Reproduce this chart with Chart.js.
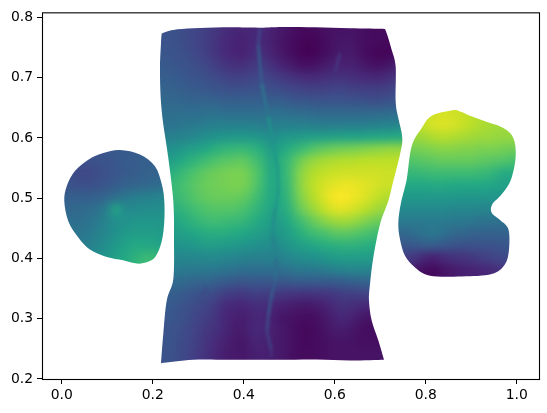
<!DOCTYPE html>
<html>
<head>
<meta charset="utf-8">
<style>
  html, body { margin: 0; padding: 0; background: #fff; }
  canvas { display: block; }
</style>
<script src="https://cdn.jsdelivr.net/npm/chart.js@4/dist/chart.umd.min.js"></script>
</head>
<body>
<canvas id="chart" width="547" height="413"></canvas>
<script>
const xTicks = [0, 0.2, 0.4, 0.6, 0.8, 1.0];
const yTicks = [0.2, 0.3, 0.4, 0.5, 0.6, 0.7, 0.8];

// values 0-100 on the colour scale, rows from the top down, one cell = 0.02
const leftValues = [ // x from -0.02, y from 0.60
  [26,26,26,26,26,26,26,26,26,26,26,26,26,26],
  [25,25,25,25,25,26,27,28,28,28,29,30,30,30],
  [24,24,24,24,24,25,26,27,28,29,30,30,31,31],
  [23,23,23,22,22,23,25,26,28,29,30,31,32,32],
  [25,25,25,24,24,25,27,29,31,32,33,34,35,35],
  [30,30,30,30,30,31,33,36,39,42,43,44,45,45],
  [33,33,33,34,35,37,42,60,47,47,48,48,49,49],
  [36,36,36,36,38,41,45,49,50,52,52,52,52,52],
  [38,38,38,39,40,43,46,50,53,55,55,55,54,54],
  [40,40,40,41,43,46,49,53,57,60,60,59,58,58],
  [42,42,42,43,46,49,52,56,60,63,66,68,64,64],
  [44,44,44,46,48,50,54,58,62,65,68,70,66,66]
];
const middleValues = [ // x from 0.20, y from 0.80
  [25,25,25,24,22,20,18,16,13,11,10,11,12,9,7,5,3,2,3,4,5,5,5,4,3,3,3,3,3],
  [25,25,25,24,22,20,18,16,13,11,10,11,12,9,7,5,3,2,3,4,5,5,5,4,3,3,3,3,3],
  [26,26,25,24,22,20,18,15,12,10,9,11,11,9,6,4,2,1,1,3,5,6,6,4,3,3,2,3,3],
  [27,27,26,25,23,21,18,15,12,10,9,12,13,10,7,4,2,0,1,3,6,7,7,4,2,1,1,3,3],
  [28,28,27,26,25,23,21,18,15,14,13,16,17,14,10,8,5,4,5,7,9,9,9,7,5,4,6,8,8],
  [30,30,29,28,26,25,24,22,20,19,19,20,21,19,17,15,13,12,12,13,14,14,13,12,11,11,13,15,15],
  [32,32,31,30,29,28,27,26,25,24,24,25,26,24,23,21,20,19,19,19,20,20,19,18,18,18,19,21,21],
  [34,34,33,33,32,32,32,31,30,30,30,30,30,29,30,28,27,27,26,26,26,26,25,25,24,24,25,26,26],
  [36,36,36,36,36,36,37,37,36,36,36,36,36,37,37,36,35,35,34,34,34,34,34,34,34,34,35,35,35],
  [38,38,38,39,40,41,42,43,43,43,43,43,42,41,43,43,43,43,42,42,42,42,42,42,43,44,44,45,45],
  [42,42,43,44,45,47,49,51,52,53,53,53,52,48,51,53,54,55,56,56,57,58,58,58,59,60,60,61,61],
  [48,48,50,52,55,57,60,63,65,66,67,65,62,54,58,62,66,70,74,76,78,79,80,81,82,83,84,84,84],
  [54,54,56,59,63,66,69,72,74,75,76,72,67,57,62,68,76,82,85,87,88,89,89,90,90,90,90,90,90],
  [60,60,62,66,70,73,76,78,79,80,80,76,70,58,62,68,80,86,89,91,92,93,93,93,93,93,92,92,92],
  [64,64,66,69,72,75,77,78,79,80,80,76,69,59,62,67,80,87,91,94,96,97,97,96,95,93,92,92,92],
  [64,64,65,68,71,74,76,77,77,77,76,72,66,59,61,66,78,85,90,95,99,100,98,96,93,90,88,88,88],
  [62,62,62,64,67,70,72,73,73,73,71,68,63,58,59,63,74,81,86,91,95,96,94,91,88,85,84,84,84],
  [58,58,58,60,63,66,68,69,68,67,66,63,59,55,55,60,67,72,78,82,85,86,85,82,79,77,77,77,77],
  [54,54,54,56,58,60,62,62,62,61,60,57,55,52,52,56,61,66,69,71,74,75,74,72,70,68,68,68,68],
  [50,50,50,51,52,54,55,55,54,54,52,51,49,48,48,52,55,58,60,62,63,64,64,63,62,62,62,62,62],
  [46,46,46,46,46,46,47,47,46,45,44,43,43,44,43,46,48,49,50,52,54,55,55,55,55,55,55,55,55],
  [40,40,41,41,40,40,40,39,38,37,36,36,36,36,36,38,39,40,40,41,43,44,45,45,45,46,46,46,46],
  [33,33,34,34,33,31,32,30,28,27,26,27,27,27,27,27,28,28,28,28,28,29,30,31,32,33,33,33,33],
  [29,29,30,29,27,25,24,22,18,17,16,18,18,17,16,15,15,14,15,15,16,18,18,19,20,21,21,21,21],
  [28,28,28,26,24,22,20,17,12,11,10,12,13,11,9,8,7,6,7,9,12,14,13,11,10,10,10,10,10],
  [27,27,27,25,23,20,18,15,11,9,8,10,11,9,6,5,4,3,4,6,9,11,9,6,5,5,5,5,5],
  [26,26,26,24,21,19,16,14,11,8,7,11,11,9,7,5,3,2,3,5,7,8,6,4,3,3,3,3,3],
  [26,26,26,23,21,18,15,12,9,7,6,9,10,8,7,5,3,2,3,4,5,5,5,4,4,4,4,4,4],
  [26,26,25,23,20,17,14,11,8,7,6,8,9,8,7,5,3,3,3,4,5,5,5,5,5,5,5,5,5],
  [26,26,25,23,20,17,14,11,8,7,6,8,9,8,7,5,3,3,3,4,5,5,5,5,5,5,5,5,5]
];
const rightValues = [ // x from 0.72, y from 0.66
  [92,92,92,92,92,92,92,92,92,92,92,92,92,92,92,92],
  [90,90,90,90,92,93,94,93,92,90,88,87,86,86,86,86],
  [88,88,88,90,92,94,95,94,92,90,88,87,86,85,85,85],
  [84,84,84,85,86,88,89,88,87,86,85,85,84,84,84,84],
  [78,78,78,79,80,81,82,82,81,81,80,80,80,78,78,78],
  [72,72,72,73,74,75,76,76,76,76,75,74,73,72,70,70],
  [66,66,66,66,67,68,68,68,68,68,67,66,63,60,62,62],
  [60,60,60,60,60,61,61,60,60,60,60,59,58,56,56,56],
  [53,53,53,53,53,53,53,53,52,52,52,52,52,52,52,52],
  [47,47,47,47,47,47,47,46,46,46,45,45,45,45,45,45],
  [41,41,41,41,41,41,41,40,40,39,38,38,37,37,37,37],
  [33,33,34,36,38,40,37,34,33,32,31,31,31,31,31,31],
  [27,27,27,28,30,30,28,26,25,25,25,25,26,27,27,27],
  [20,20,18,15,11,9,12,14,15,16,18,19,21,22,22,22],
  [17,15,11,6,3,2,5,7,8,9,10,11,13,15,15,15],
  [12,12,10,7,3,2,5,8,9,10,11,12,13,14,14,14]
];

// thin creases of the middle patch
const creaseX = [.4358,.432,.4395,.454,.465,.4745,.476,.471,.4687,.4636,.472,.4687,.459,.4547,.451,.4607,.4607];
const creaseY = [.782,.755,.69,.635,.59,.55,.515,.482,.484,.44,.401,.363,.33,.308,.28,.247,.235];
const creaseV = [15,20,28,38,50,53,54,53,52,48,44,36,28,26,22,18,12];
const upperCreaseX = [.6116,.6007];
const upperCreaseY = [.7406,.7075];
const upperCreaseV = [11,15];
const lowerCreaseX = [.3187,.304];
const lowerCreaseY = [.352,.33];
const lowerCreaseV = [25,23];

// outlines of the three patches in data units, a repeated point is a corner
const leftOutline = [[.128,.580],[.172,.5725],[.205,.553],[.220,.523],[.2255,.495],[.2255,.462],[.220,.429],[.207,.404],[.190,.3945],[.165,.3915],[.135,.397],[.099,.4025],[.062,.415],[.0365,.435],[.0145,.462],[.0057,.495],[.011,.520],[.029,.545],[.0585,.564],[.0915,.575]];
const middleOutline = [[.2198,.7736],[.2198,.7736],[.2453,.7793],[.2892,.7819],[.355,.7836],[.4358,.783],[.4835,.7842],[.5567,.7836],[.6336,.7819],[.7105,.7809],[.7105,.7809],[.7156,.771],[.7253,.7462],[.734,.7186],[.734,.6607],[.7398,.6331],[.7486,.6],[.7435,.5725],[.7288,.5284],[.7178,.4953],[.6996,.4568],[.6849,.4016],[.6776,.3576],[.6754,.33],[.6813,.2969],[.6959,.2638],[.7084,.2319],[.7084,.2319],[.6336,.2307],[.5604,.2324],[.4725,.2319],[.3699,.2319],[.2892,.2319],[.2182,.2263],[.2182,.2263],[.2233,.2749],[.2308,.33],[.2453,.3658],[.2468,.4292],[.2453,.4953],[.2343,.5669],[.2233,.6222],[.2176,.6661],[.216,.7158],[.2182,.7571]];
const rightOutline = [[.8571,.6458],[.8132,.637],[.7912,.6165],[.7692,.5863],[.7582,.5312],[.7457,.4925],[.7398,.4594],[.7435,.432],[.7545,.4044],[.7765,.385],[.8095,.3713],[.8791,.3701],[.945,.3741],[.9743,.3906],[.9831,.4155],[.9817,.4485],[.9633,.4639],[.945,.476],[.9464,.4899],[.967,.5064],[.9875,.5312],[.9978,.5697],[.9925,.6],[.9705,.6165],[.9304,.6276],[.9047,.6347],[.8753,.6441]];

const cellStep = 0.02;
const viridis = [[68,1,84],[72,36,117],[65,68,135],[53,95,141],[42,120,142],[33,145,140],[34,168,132],[68,191,112],[122,209,81],[189,223,38],[253,231,37]];

function viridisColor(v) {
  const t = Math.min(9.999, Math.max(0, v / 10));
  const i = Math.floor(t), f = t - i;
  const c = viridis[i].map((a, k) => Math.round(a + (viridis[i + 1][k] - a) * f));
  return 'rgb(' + c.join(',') + ')';
}

function toPoints(values, x0, y0) {
  const pts = [];
  values.forEach((row, r) => row.forEach((v, c) => {
    pts.push({ x: x0 + c * cellStep, y: y0 - r * cellStep, v: v });
  }));
  return pts;
}

// one little canvas per value, used as the point style of the cells
const cellCache = {};
function cellStyle(ctx) {
  const v = ctx.raw ? ctx.raw.v : 0;
  if (!cellCache[v]) {
    const sx = ctx.chart.scales.x, sy = ctx.chart.scales.y;
    if (!sx || !sy) return 'rect';
    const w = Math.ceil(Math.abs(sx.getPixelForValue(cellStep) - sx.getPixelForValue(0))) + 1;
    const h = Math.ceil(Math.abs(sy.getPixelForValue(cellStep) - sy.getPixelForValue(0))) + 1;
    if (!(w > 1) || !(h > 1)) return 'rect'; // scales not laid out yet
    const c = document.createElement('canvas');
    c.width = w;
    c.height = h;
    const g = c.getContext('2d');
    g.fillStyle = viridisColor(v);
    g.fillRect(0, 0, w, h);
    cellCache[v] = c;
  }
  return cellCache[v];
}

// closed smooth path through the outline points
function tracePath(g, chart, outline) {
  const p = outline.map(q => [chart.scales.x.getPixelForValue(q[0]), chart.scales.y.getPixelForValue(q[1])]);
  const n = p.length;
  g.beginPath();
  g.moveTo(p[0][0], p[0][1]);
  for (let i = 0; i < n; i++) {
    const a = p[(i + n - 1) % n], b = p[i], c = p[(i + 1) % n], d = p[(i + 2) % n];
    if (b[0] === c[0] && b[1] === c[1]) continue; // corner
    const t0 = (a[0] === b[0] && a[1] === b[1]) ? b : a;
    const t1 = (c[0] === d[0] && c[1] === d[1]) ? c : d;
    g.bezierCurveTo(b[0] + (c[0] - t0[0]) / 6, b[1] + (c[1] - t0[1]) / 6,
                    c[0] - (t1[0] - b[0]) / 6, c[1] - (t1[1] - b[1]) / 6, c[0], c[1]);
  }
  g.closePath();
}

// soften each dataset and cut it to its outline
let doneCanvas = null;
const patchPlugin = {
  id: 'patch',
  beforeDatasetsDraw(chart) {
    doneCanvas = document.createElement('canvas');
    doneCanvas.width = chart.width;
    doneCanvas.height = chart.height;
  },
  afterDatasetDraw(chart, args) {
    const a = chart.chartArea, g = doneCanvas.getContext('2d');
    const ds = chart.data.datasets[args.index];
    g.save();
    tracePath(g, chart, ds.outline);
    g.clip();
    g.filter = 'blur(' + ds.softness + 'px)';
    g.drawImage(chart.canvas, 0, 0);
    g.restore();
    chart.ctx.clearRect(a.left, a.top, a.right - a.left, a.bottom - a.top);
  },
  afterDatasetsDraw(chart) {
    chart.ctx.drawImage(doneCanvas, 0, 0);
  },
  afterDraw(chart) {
    const a = chart.chartArea, c = chart.ctx;
    c.save();
    c.strokeStyle = '#000';
    c.lineWidth = 1.1;
    c.strokeRect(a.left + 0.5, a.top + 0.5, a.right - a.left, a.bottom - a.top);
    c.restore();
  }
};

function patchDataset(label, values, x0, y0, outline) {
  return { label: label, data: toPoints(values, x0, y0), pointStyle: cellStyle, pointRadius: 5,
           outline: outline, softness: 4, order: 1 };
}

function creaseDataset(label, xs, ys, vs, width) {
  return {
    label: label,
    data: xs.map((x, i) => ({ x: x, y: ys[i], v: vs[i] })),
    showLine: true,
    pointRadius: 0,
    borderWidth: width,
    borderColor: viridisColor(vs[0]),
    segment: { borderColor: c => viridisColor(vs[c.p1DataIndex]) },
    outline: middleOutline,
    softness: 1.5,
    order: 0
  };
}

Chart.defaults.font.family = '"DejaVu Sans"';
Chart.defaults.font.size = 13.9;
Chart.defaults.color = '#000';

new Chart(document.getElementById('chart').getContext('2d'), {
  type: 'scatter',
  data: {
    datasets: [
      patchDataset('left', leftValues, -0.02, 0.60, leftOutline),
      patchDataset('middle', middleValues, 0.20, 0.80, middleOutline),
      patchDataset('right', rightValues, 0.72, 0.66, rightOutline),
      creaseDataset('crease', creaseX, creaseY, creaseV, 3),
      creaseDataset('upper crease', upperCreaseX, upperCreaseY, upperCreaseV, 3),
      creaseDataset('lower crease', lowerCreaseX, lowerCreaseY, lowerCreaseV, 3)
    ]
  },
  plugins: [patchPlugin],
  options: {
    responsive: false,
    animation: false,
    events: [],
    layout: { padding: { top: 10, right: 8 } },
    plugins: { legend: { display: false }, tooltip: { enabled: false } },
    scales: {
      x: {
        type: 'linear',
        min: -0.0433,
        max: 1.049,
        afterBuildTicks: s => { s.ticks = xTicks.map(v => ({ value: v })); },
        afterFit: s => { s.height = 34; },
        ticks: { autoSkip: false, maxRotation: 0, padding: 3, callback: v => v.toFixed(1) },
        grid: { drawOnChartArea: false, drawTicks: true, tickLength: 5, tickColor: '#000', lineWidth: 1 },
        border: { display: false }
      },
      y: {
        type: 'linear',
        min: 0.2,
        max: 0.8085,
        afterBuildTicks: s => { s.ticks = yTicks.map(v => ({ value: v })); },
        afterFit: s => { s.width = 42; },
        ticks: { autoSkip: false, padding: 4, callback: v => v.toFixed(1) },
        grid: { drawOnChartArea: false, drawTicks: true, tickLength: 5, tickColor: '#000', lineWidth: 1 },
        border: { display: false }
      }
    }
  }
});
</script>
</body>
</html>
